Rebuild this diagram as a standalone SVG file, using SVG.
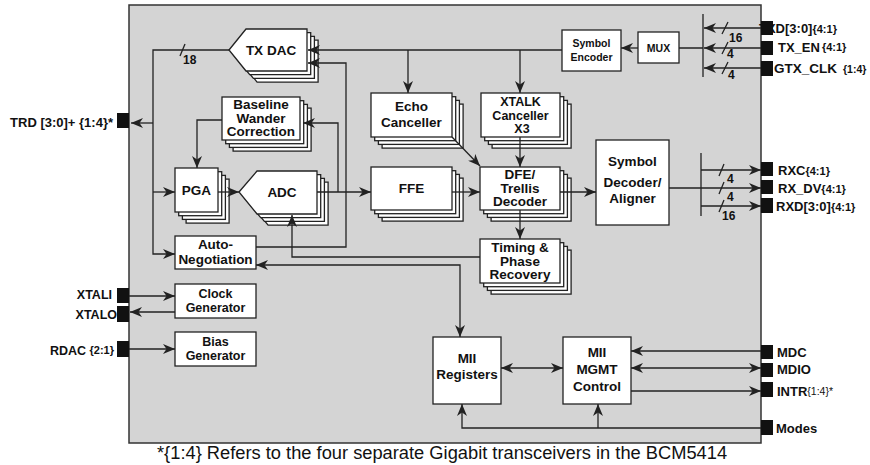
<svg xmlns="http://www.w3.org/2000/svg" width="870" height="465" viewBox="0 0 870 465">
<style>
.bg{fill:#d4d4d4;stroke:#333;stroke-width:1.5}
.box{fill:#fff;stroke:#222;stroke-width:1.3}
.ln{fill:none;stroke:#222;stroke-width:1.3}
.t{font-family:"Liberation Sans",Arial,sans-serif;font-weight:bold;font-size:13.5px;fill:#111;text-anchor:middle}
.t2{font-family:"Liberation Sans",Arial,sans-serif;font-weight:bold;font-size:12.5px;fill:#111;text-anchor:middle}
.ts{font-family:"Liberation Sans",Arial,sans-serif;font-weight:bold;font-size:10.5px;fill:#111;text-anchor:middle}
.pl{font-family:"Liberation Sans",Arial,sans-serif;font-weight:bold;font-size:13px;fill:#111}
.bw{font-family:"Liberation Sans",Arial,sans-serif;font-weight:bold;font-size:12px;fill:#111}
.sm{font-size:11px}
.nb{font-weight:normal;font-size:10.5px}
.pin{fill:#111}
.cap{font-family:"Liberation Sans",Arial,sans-serif;font-size:18.3px;fill:#111}
</style>
<defs>
<marker id="ae" viewBox="0 0 12 10" refX="12" refY="5" markerWidth="12" markerHeight="10" orient="auto" markerUnits="userSpaceOnUse"><path d="M0,0 L12,5 L0,10 L3.5,5 z" fill="#222"/></marker>
<marker id="as" viewBox="0 0 12 10" refX="0" refY="5" markerWidth="12" markerHeight="10" orient="auto" markerUnits="userSpaceOnUse"><path d="M12,0 L0,5 L12,10 L8.5,5 z" fill="#222"/></marker>
</defs>

<rect class="bg" x="129" y="5" width="632" height="438"/>

<g id="txdac">
<polygon class="box" points="229,50 246,29 307,29 307,71 246,71" transform="translate(11.1,11.1)"/>
<polygon class="box" points="229,50 246,29 307,29 307,71 246,71" transform="translate(7.4,7.4)"/>
<polygon class="box" points="229,50 246,29 307,29 307,71 246,71" transform="translate(3.7,3.7)"/>
<polygon class="box" points="229,50 246,29 307,29 307,71 246,71"/>
<text class="t" x="271" y="55">TX DAC</text>
</g>

<g id="baseline">
<rect class="box" x="233.1" y="108.1" width="78" height="43"/>
<rect class="box" x="229.4" y="104.4" width="78" height="43"/>
<rect class="box" x="225.7" y="100.7" width="78" height="43"/>
<rect class="box" x="222" y="97" width="78" height="43"/>
<text class="t" x="261" y="109">Baseline</text>
<text class="t" x="261" y="122.5">Wander</text>
<text class="t" x="261" y="136">Correction</text>
</g>

<g id="pga">
<rect class="box" x="186.1" y="179.1" width="43" height="44"/>
<rect class="box" x="182.4" y="175.4" width="43" height="44"/>
<rect class="box" x="178.7" y="171.7" width="43" height="44"/>
<rect class="box" x="175" y="168" width="43" height="44"/>
<text class="t" x="196.5" y="195">PGA</text>
</g>

<g id="adc">
<polygon class="box" points="239,192 257,171 317,171 317,214 257,214" transform="translate(11.1,11.1)"/>
<polygon class="box" points="239,192 257,171 317,171 317,214 257,214" transform="translate(7.4,7.4)"/>
<polygon class="box" points="239,192 257,171 317,171 317,214 257,214" transform="translate(3.7,3.7)"/>
<polygon class="box" points="239,192 257,171 317,171 317,214 257,214"/>
<text class="t" x="282" y="197">ADC</text>
</g>

<g id="echo">
<rect class="box" x="382.1" y="104.1" width="81" height="44"/>
<rect class="box" x="378.4" y="100.4" width="81" height="44"/>
<rect class="box" x="374.7" y="96.7" width="81" height="44"/>
<rect class="box" x="371" y="93" width="81" height="44"/>
<text class="t" x="411.5" y="111">Echo</text>
<text class="t" x="411.5" y="127">Canceller</text>
</g>

<g id="xtalk">
<rect class="box" x="492.1" y="104.1" width="79" height="44"/>
<rect class="box" x="488.4" y="100.4" width="79" height="44"/>
<rect class="box" x="484.7" y="96.7" width="79" height="44"/>
<rect class="box" x="481" y="93" width="79" height="44"/>
<text class="t2" x="520.5" y="106">XTALK</text>
<text class="t2" x="520.5" y="119.5">Canceller</text>
<text class="t2" x="522" y="133">X3</text>
</g>

<g id="ffe">
<rect class="box" x="382.1" y="178.1" width="81" height="43"/>
<rect class="box" x="378.4" y="174.4" width="81" height="43"/>
<rect class="box" x="374.7" y="170.7" width="81" height="43"/>
<rect class="box" x="371" y="167" width="81" height="43"/>
<text class="t" x="411.5" y="193">FFE</text>
</g>

<g id="dfe">
<rect class="box" x="491.1" y="178.1" width="80" height="43"/>
<rect class="box" x="487.4" y="174.4" width="80" height="43"/>
<rect class="box" x="483.7" y="170.7" width="80" height="43"/>
<rect class="box" x="480" y="167" width="80" height="43"/>
<text class="t" x="520" y="179">DFE/</text>
<text class="t" x="520" y="192.5">Trellis</text>
<text class="t" x="520" y="206">Decoder</text>
</g>

<g id="timing">
<rect class="box" x="491.1" y="250.1" width="80" height="44"/>
<rect class="box" x="487.4" y="246.4" width="80" height="44"/>
<rect class="box" x="483.7" y="242.7" width="80" height="44"/>
<rect class="box" x="480" y="239" width="80" height="44"/>
<text class="t" x="520" y="252">Timing &amp;</text>
<text class="t" x="520" y="265.5">Phase</text>
<text class="t" x="520" y="279">Recovery</text>
</g>

<g id="autoneg">
<rect class="box" x="175" y="236" width="81" height="33"/>
<text class="t" x="215.5" y="249">Auto-</text>
<text class="t" x="215.5" y="264">Negotiation</text>
</g>

<g id="clockgen">
<rect class="box" x="175" y="284" width="81" height="34"/>
<text class="t2" x="215.5" y="298">Clock</text>
<text class="t2" x="215.5" y="312">Generator</text>
</g>

<g id="biasgen">
<rect class="box" x="175" y="332" width="81" height="34"/>
<text class="t2" x="215.5" y="346">Bias</text>
<text class="t2" x="215.5" y="360">Generator</text>
</g>

<g id="symenc">
<rect class="box" x="562" y="30" width="59" height="41"/>
<text class="ts" x="591.5" y="47">Symbol</text>
<text class="ts" x="591.5" y="61">Encoder</text>
</g>

<g id="mux">
<rect class="box" x="638" y="32" width="41" height="31"/>
<text class="ts" x="658.5" y="52">MUX</text>
</g>

<g id="symdec">
<rect class="box" x="596" y="140" width="73" height="85"/>
<text class="t" x="632.5" y="166">Symbol</text>
<text class="t" x="632.5" y="187">Decoder/</text>
<text class="t" x="632.5" y="203">Aligner</text>
</g>

<g id="miireg">
<rect class="box" x="433" y="337" width="68" height="67"/>
<text class="t" x="467" y="363">MII</text>
<text class="t" x="467" y="379">Registers</text>
</g>

<g id="miimgmt">
<rect class="box" x="563" y="337" width="68" height="67"/>
<text class="t" x="597" y="357">MII</text>
<text class="t" x="597" y="374">MGMT</text>
<text class="t" x="597" y="391">Control</text>
</g>

<g id="connectors">
<path class="ln" d="M229,50 H153 V254 H175" marker-end="url(#ae)"/>
<path class="ln" d="M180,56 L185,44"/>
<path class="ln" d="M153,123 H131" marker-end="url(#ae)"/>
<path class="ln" d="M153,192 H175" marker-end="url(#ae)"/>
<path class="ln" d="M222,120 H197 V168" marker-end="url(#ae)"/>
<path class="ln" d="M218,192 H239" marker-end="url(#ae)"/>
<path class="ln" d="M317,192 H371" marker-end="url(#ae)"/>
<path class="ln" d="M338,192 V123 H303" marker-end="url(#ae)"/>
<path class="ln" d="M452,192 H480" marker-end="url(#ae)"/>
<path class="ln" d="M560,192 H596" marker-end="url(#ae)"/>
<path class="ln" d="M452,137 L480,166" marker-end="url(#ae)"/>
<path class="ln" d="M520,137 V167" marker-end="url(#ae)"/>
<path class="ln" d="M520,210 V239" marker-end="url(#ae)"/>
<path class="ln" d="M480,257 H292 V215" marker-end="url(#ae)"/>
<path class="ln" d="M562,50 H308" marker-end="url(#ae)"/>
<path class="ln" d="M408,50 V93" marker-end="url(#ae)"/>
<path class="ln" d="M520,50 V93" marker-end="url(#ae)"/>
<path class="ln" d="M638,48 H621" marker-end="url(#ae)"/>
<path class="ln" d="M679,48 H703 M703,14 V77"/>
<path class="ln" d="M761,28 H704" marker-end="url(#ae)"/>
<path class="ln" d="M761,48 H704" marker-end="url(#ae)"/>
<path class="ln" d="M761,68 H704" marker-end="url(#ae)"/>
<path class="ln" d="M722,34 L728,22 M722,54 L728,42 M722,74 L728,62"/>
<path class="ln" d="M669,188 H701 M701,153 V216"/>
<path class="ln" d="M701,170 H761" marker-end="url(#ae)"/>
<path class="ln" d="M701,188 H761" marker-end="url(#ae)"/>
<path class="ln" d="M701,206 H761" marker-end="url(#ae)"/>
<path class="ln" d="M719,176 L724,164 M719,194 L724,182 M719,212 L724,200"/>
<path class="ln" d="M256,247 H346 V63 H308" marker-end="url(#ae)"/>
<path class="ln" d="M256,265 H460 V337" marker-start="url(#as)" marker-end="url(#ae)"/>
<path class="ln" d="M129,296 H175" marker-end="url(#ae)"/>
<path class="ln" d="M175,312 H130" marker-end="url(#ae)"/>
<path class="ln" d="M129,349 H175" marker-end="url(#ae)"/>
<path class="ln" d="M501,368 H563" marker-start="url(#as)" marker-end="url(#ae)"/>
<path class="ln" d="M761,351 H631" marker-end="url(#ae)"/>
<path class="ln" d="M631,368 H761" marker-start="url(#as)" marker-end="url(#ae)"/>
<path class="ln" d="M631,391 H761" marker-end="url(#ae)"/>
<path class="ln" d="M761,428 H462 V404" marker-end="url(#ae)"/>
<path class="ln" d="M598,428 V404" marker-end="url(#ae)"/>
</g>

<g id="buswidths">
<text class="bw" x="183" y="64">18</text>
<text class="bw" x="729" y="42">16</text>
<text class="bw" x="727" y="58">4</text>
<text class="bw" x="728" y="79">4</text>
<text class="bw" x="727" y="183">4</text>
<text class="bw" x="727" y="201">4</text>
<text class="bw" x="722" y="220">16</text>
</g>

<g id="pinlabels">
<text class="pl" x="759" y="33">TXD[3:0]<tspan class="sm">{4:1}</tspan></text>
<text class="pl" x="778" y="52">TX_EN<tspan class="sm" dx="2" dy="-1">{4:1}</tspan></text>
<text class="pl" x="774" y="73" style="font-size:13.5px">GTX_CLK<tspan class="sm" dx="6" style="font-size:10.5px">{1:4}</tspan></text>
<text class="pl" x="778" y="175">RXC<tspan class="sm">{4:1}</tspan></text>
<text class="pl" x="778" y="193">RX_DV<tspan class="sm">{4:1}</tspan></text>
<text class="pl" x="776" y="211">RXD[3:0]<tspan class="sm">{4:1}</tspan></text>
<text class="pl" x="777" y="357">MDC</text>
<text class="pl" x="777" y="374">MDIO</text>
<text class="pl" x="777" y="396">INTR<tspan class="nb" dy="-1">{1:4}*</tspan></text>
<text class="pl" x="776" y="433">Modes</text>
<text class="pl" x="113" y="127" text-anchor="end">TRD [3:0]+ {1:4}*</text>
<text class="pl" x="112" y="299" text-anchor="end" style="font-size:12.5px">XTALI</text>
<text class="pl" x="117" y="319" text-anchor="end" style="font-size:12.5px">XTALO</text>
<text class="pl" x="114" y="355" text-anchor="end" style="font-size:12.5px">RDAC <tspan class="sm" dy="-1">{2:1}</tspan></text>
</g>

<g id="pins">
<rect class="pin" x="117" y="113" width="12" height="15"/>
<rect class="pin" x="117" y="288" width="12" height="15"/>
<rect class="pin" x="117" y="306" width="12" height="16"/>
<rect class="pin" x="117" y="341" width="12" height="16"/>
<rect class="pin" x="761" y="21" width="12" height="14"/>
<rect class="pin" x="761" y="41" width="12" height="14"/>
<rect class="pin" x="761" y="61" width="12" height="15"/>
<rect class="pin" x="761" y="162" width="12" height="14"/>
<rect class="pin" x="761" y="180" width="12" height="14"/>
<rect class="pin" x="761" y="198" width="12" height="15"/>
<rect class="pin" x="761" y="345" width="12" height="14"/>
<rect class="pin" x="761" y="363" width="12" height="14"/>
<rect class="pin" x="761" y="382" width="12" height="15"/>
<rect class="pin" x="761" y="420" width="12" height="15"/>
</g>

<text class="cap" x="157" y="459">*{1:4} Refers to the four separate Gigabit transceivers in the BCM5414</text>
</svg>
